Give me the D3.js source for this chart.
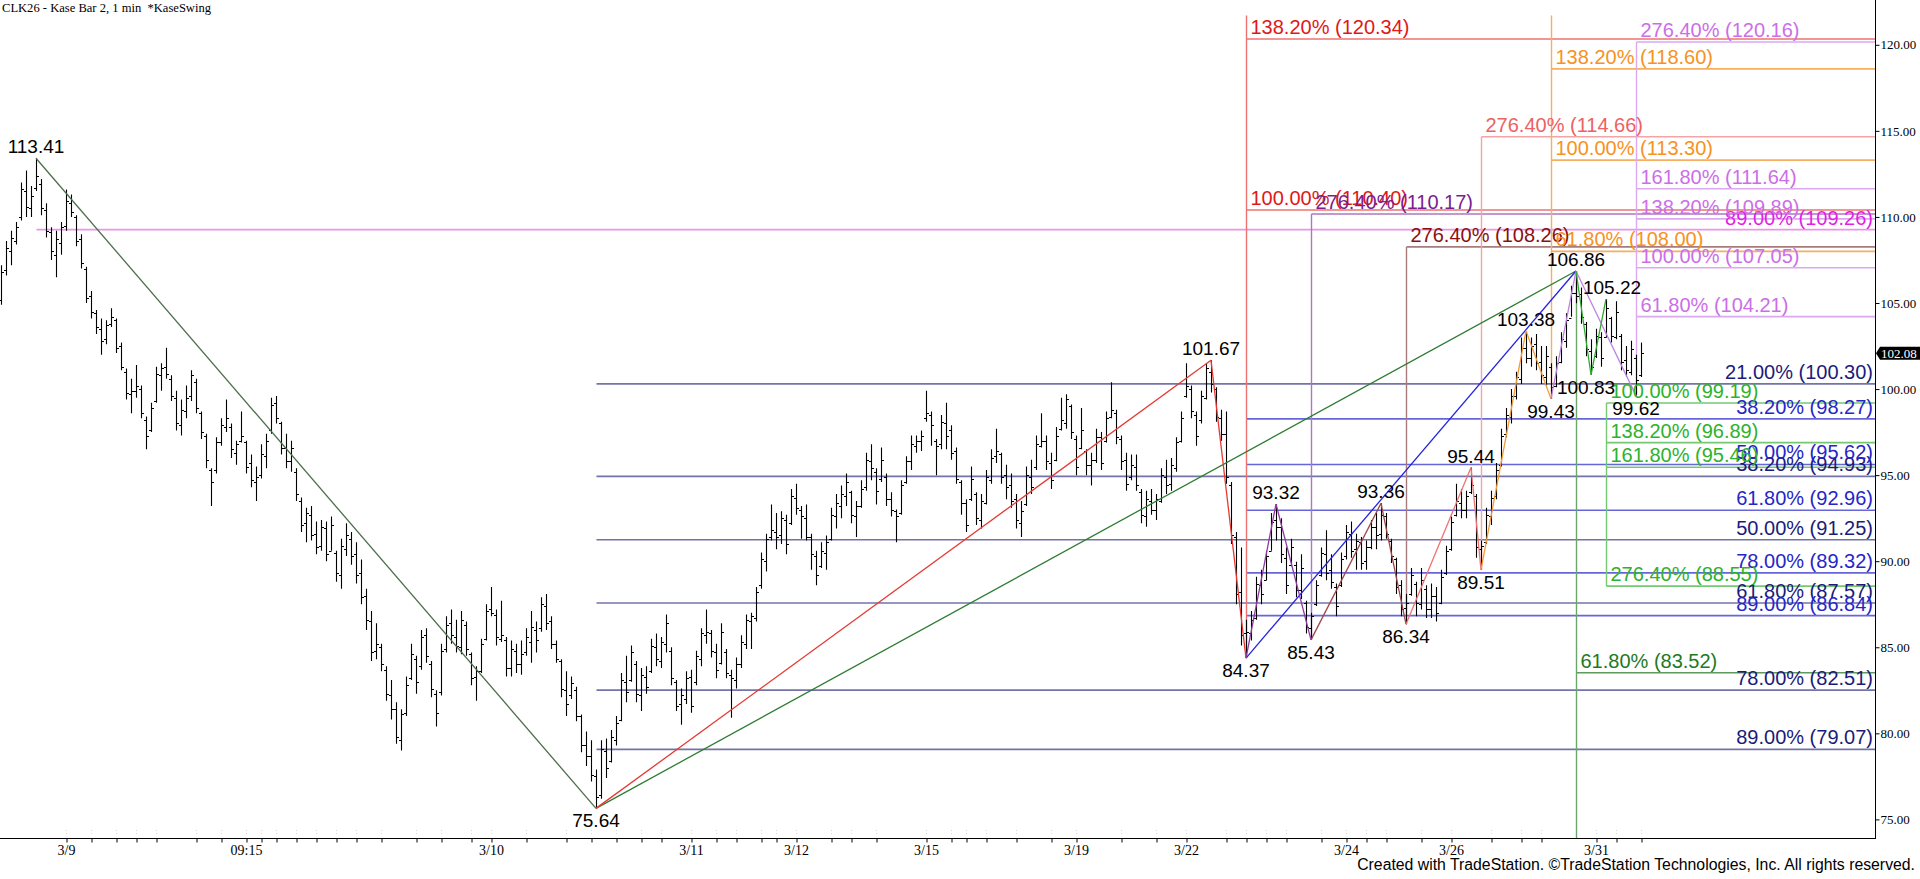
<!DOCTYPE html>
<html><head><meta charset="utf-8">
<script src="https://cdn.jsdelivr.net/npm/d3@7"></script>
<style>html,body{margin:0;padding:0;background:#fff;overflow:hidden}</style>
</head><body>
<svg id="c" width="1920" height="879"></svg>
<script>
// ---------------- DATA ----------------
const highs=[
107.2,108.6,109.2,109.7,112.0,112.7,111.8,113.41,112.2,110.8,
109.4,109.2,109.7,111.6,111.3,110.1,109.0,107.1,105.7,104.6,
104.1,104.0,104.7,104.1,102.7,101.2,100.6,101.4,100.2,98.4,
99.2,101.3,101.5,102.4,100.8,99.9,99.4,100.2,101.1,100.6,
98.7,97.4,95.4,97.2,98.3,99.4,98.0,97.0,98.7,97.0,
96.2,95.5,96.8,97.4,99.5,99.6,98.1,97.4,97.0,95.4,
93.7,93.1,93.2,92.3,92.4,92.3,92.6,90.6,91.3,92.2,
91.7,91.1,90.1,88.4,87.1,86.4,85.2,83.9,83.1,81.8,
81.4,83.3,85.2,84.5,86.0,86.1,84.2,82.5,85.2,86.8,
87.2,86.6,87.1,86.5,84.7,83.9,85.5,87.5,88.5,87.2,
87.7,85.6,85.4,85.2,85.4,86.1,87.1,86.5,87.9,88.1,
86.8,85.4,84.3,83.6,83.3,82.7,81.1,80.1,79.6,77.9,
79.6,79.7,80.2,81.0,83.5,84.5,85.1,84.2,83.8,83.9,
85.5,85.8,85.6,86.9,85.0,83.1,82.6,83.6,83.7,84.8,
86.1,87.2,86.0,85.2,86.4,84.9,83.7,84.4,85.7,86.9,
87.0,88.5,90.5,91.6,93.3,92.8,92.9,92.7,94.2,94.5,
93.2,93.3,91.6,90.6,91.1,91.5,93.1,93.9,94.4,95.1,
94.1,93.5,94.7,96.3,96.8,95.4,96.6,95.1,94.0,93.0,
94.7,96.1,97.3,97.3,97.6,99.9,98.7,97.1,98.5,99.2,
97.9,96.6,94.7,93.6,95.5,94.0,93.9,95.3,96.5,97.7,
96.3,95.6,95.1,93.9,93.5,95.5,95.9,97.3,98.6,97.3,
96.3,97.8,99.5,99.7,99.1,97.3,98.9,96.5,96.3,97.7,
97.5,98.7,100.4,98.8,97.3,96.3,96.2,96.2,94.2,94.1,
94.2,93.9,95.4,95.9,96.0,97.2,98.7,101.5,100.2,98.7,
99.9,101.5,101.67,100.1,98.8,98.7,94.6,91.7,90.8,86.6,
87.1,89.1,89.5,90.6,92.8,93.32,92.5,90.8,91.3,89.97,
90.4,87.7,87.0,88.9,90.8,91.8,90.4,88.7,90.5,92.1,
92.3,91.6,91.4,91.2,92.4,92.8,93.36,92.8,91.3,90.2,
88.9,88.1,89.6,88.8,89.6,88.6,88.7,88.5,89.5,90.9,
92.6,94.5,94.2,94.1,95.44,93.9,91.2,93.1,94.1,95.7,
97.7,98.9,100.0,101.0,103.0,103.38,103.0,103.2,102.5,102.5,
101.5,101.9,103.3,104.4,106.0,106.86,105.9,103.9,102.9,103.5,
103.3,105.22,104.2,105.1,103.2,102.5,102.8,102.0,102.7];
const lows=[
104.9,106.6,107.2,108.4,109.8,110.0,110.0,111.5,110.1,108.8,
107.5,106.5,107.8,109.2,110.0,108.3,107.0,105.0,104.1,103.2,
102.0,102.6,103.6,102.1,101.1,99.4,98.6,99.5,98.3,96.5,
97.5,99.2,99.9,100.6,99.3,97.6,97.3,98.3,99.3,98.6,
97.1,95.4,93.2,95.1,96.7,97.5,96.0,95.6,96.9,95.1,
94.3,93.5,94.8,95.4,97.4,98.0,96.2,95.4,95.2,93.5,
91.7,91.1,91.2,90.4,90.6,90.0,90.6,88.8,88.4,90.3,
89.8,88.7,87.5,86.0,84.2,84.3,83.6,81.9,80.8,79.4,
79.0,81.0,83.1,82.3,83.7,84.1,82.1,80.4,82.2,84.7,
85.2,84.7,84.6,84.5,82.8,81.9,83.5,85.4,86.8,85.1,
85.3,83.3,83.3,83.5,83.4,84.5,84.1,84.7,85.9,86.0,
84.9,84.1,82.1,81.0,82.0,80.7,78.9,78.1,77.2,75.64,
76.2,77.4,78.3,79.3,80.7,81.8,83.0,81.8,81.3,82.3,
83.5,83.9,83.8,84.7,82.8,81.3,80.5,81.7,81.2,82.8,
83.9,85.2,84.4,83.2,84.0,83.2,80.9,82.6,83.8,84.9,
84.9,86.5,88.4,89.4,91.2,90.7,91.0,90.4,92.1,92.7,
91.3,91.2,89.5,88.6,89.6,89.5,91.2,91.9,92.5,93.2,
92.2,91.4,93.1,94.1,94.7,93.3,94.6,93.2,92.6,91.1,
92.7,94.5,95.3,96.3,96.4,98.1,96.7,95.0,96.5,96.5,
95.9,94.5,92.7,91.7,93.5,92.1,91.9,93.3,94.5,95.7,
94.5,93.6,93.1,91.9,91.4,93.2,93.9,95.3,96.6,95.3,
94.2,95.8,97.6,97.7,97.1,95.0,96.5,95.0,94.4,95.7,
95.3,96.9,98.3,96.8,95.3,94.1,94.7,94.1,92.2,92.0,
92.7,92.4,93.4,93.9,94.1,95.2,96.9,99.5,98.3,96.7,
98.0,99.4,99.8,98.1,97.0,94.5,91.0,87.5,85.1,84.37,
85.4,86.6,87.5,88.9,90.6,91.2,89.9,88.1,89.7,87.9,
87.8,85.8,85.43,87.4,89.1,88.9,88.4,86.8,88.5,90.1,
90.2,89.5,89.5,89.5,90.7,90.7,91.2,91.3,89.9,88.1,
86.8,86.34,88.0,86.8,87.2,86.7,86.7,86.5,87.5,89.2,
90.6,92.6,92.5,92.5,93.9,90.2,89.51,91.0,92.1,93.6,
95.5,97.2,98.0,99.4,100.3,101.5,101.3,101.1,100.3,100.2,
99.43,100.1,101.5,102.4,104.2,104.98,103.8,101.9,100.83,101.8,
101.3,103.0,102.7,102.9,101.1,100.7,100.8,99.62,100.7];
const opens=[
105.2,106.9,108.0,108.6,110.0,111.5,110.5,111.7,111.9,110.4,
109.1,107.8,108.5,109.5,110.8,110.0,108.7,107.0,105.4,104.4,
103.5,102.9,103.8,104.0,102.5,101.0,99.7,99.9,100.0,98.2,
97.6,99.3,100.8,101.3,100.6,99.5,97.9,98.7,99.6,100.4,
98.6,97.3,95.3,95.3,96.9,97.8,97.8,96.3,97.0,96.9,
95.7,94.6,95.0,96.1,97.6,99.2,98.0,96.6,95.8,95.2,
93.5,92.2,92.7,91.6,90.9,91.9,90.6,90.5,89.2,90.7,
91.3,90.4,89.3,88.0,86.5,84.8,85.0,83.7,82.2,81.4,
79.6,81.2,83.2,84.3,83.9,85.7,84.0,82.3,82.4,84.9,
86.4,85.6,85.0,86.3,84.6,83.3,83.6,85.5,87.2,86.9,
85.5,85.4,83.8,84.8,84.0,84.7,85.3,86.0,86.1,87.4,
86.5,85.2,84.2,82.5,82.2,82.5,81.0,79.3,78.7,77.5,
76.4,79.0,78.4,79.6,80.8,83.0,83.1,84.0,82.2,83.3,
83.6,85.0,84.2,85.2,84.8,83.0,81.7,82.0,83.3,83.0,
84.3,85.7,85.8,84.7,84.1,84.7,83.4,83.1,84.0,85.2,
86.5,86.7,88.6,90.0,91.4,91.7,91.5,92.4,92.2,93.7,
93.0,92.5,91.4,90.3,89.7,90.5,91.3,92.6,93.2,93.8,
94.0,92.6,93.2,94.3,95.8,95.2,94.8,94.9,93.6,92.9,
92.8,94.6,95.8,96.7,97.0,98.3,98.5,97.0,96.8,98.0,
97.6,96.4,94.6,93.4,93.6,93.9,92.4,93.4,94.7,96.1,
96.2,95.0,94.4,93.6,92.2,93.3,94.9,95.5,96.7,97.0,
95.7,95.9,97.7,98.0,99.0,97.1,96.6,96.4,95.6,95.9,
97.2,97.0,98.4,98.6,97.1,95.9,94.9,95.5,94.0,92.6,
93.5,93.0,93.5,94.9,94.5,95.4,97.0,99.6,100.0,98.5,
98.2,99.5,101.0,100.0,98.3,97.4,94.4,91.4,88.2,85.8,
85.8,86.7,88.6,88.9,90.6,92.4,92.0,90.2,89.8,89.8,
88.3,87.6,86.1,87.5,89.2,90.4,89.5,88.5,88.6,90.3,
91.6,90.7,91.1,90.0,90.8,92.0,91.6,92.6,91.2,90.1,
88.6,87.3,88.1,88.7,87.5,88.4,87.2,88.0,87.6,89.3,
90.7,92.7,93.4,93.0,94.0,93.8,90.7,91.1,92.6,93.8,
95.6,97.4,98.4,99.6,100.6,102.4,101.8,102.6,101.6,100.7,
101.3,100.2,101.6,102.8,104.1,105.6,105.5,103.8,102.2,101.9,
103.0,103.0,104.1,103.0,103.1,101.7,101.0,101.8,100.8];
const closes=[
106.8,108.2,108.8,109.4,111.6,110.6,111.2,112.4,110.5,109.2,
108.0,108.7,109.4,110.9,110.3,108.6,107.3,105.3,104.5,103.6,
102.8,103.7,104.2,102.4,101.3,99.8,99.9,100.2,98.6,97.3,
98.9,100.9,101.2,100.9,99.6,98.0,98.8,99.5,100.8,98.9,
97.5,95.9,94.6,96.9,97.9,98.3,96.5,96.8,97.3,95.5,
94.7,94.9,96.2,97.0,99.1,98.3,96.6,95.8,96.6,93.9,
92.1,92.8,91.5,90.8,92.0,90.4,92.1,89.3,90.9,91.5,
90.3,89.2,87.9,86.6,84.7,85.2,84.0,82.3,81.4,79.8,
81.1,82.8,84.6,83.0,85.6,84.5,82.6,81.2,84.8,86.3,
85.7,85.1,86.6,84.9,83.2,83.6,85.2,87.1,87.0,85.6,
85.7,83.8,84.9,84.0,84.6,85.6,86.2,85.4,87.5,86.4,
85.2,84.3,82.6,81.7,82.9,81.0,79.3,78.7,77.6,76.3,
79.1,78.0,79.8,80.6,83.1,82.4,84.7,82.3,83.4,82.7,
85.1,84.3,85.3,86.4,83.2,81.6,82.2,83.2,81.6,84.5,
85.8,85.9,84.8,83.7,85.9,83.5,83.2,84.0,85.3,86.6,
86.8,88.2,90.1,91.3,91.8,91.4,92.5,91.0,93.8,93.1,
92.6,91.4,90.4,89.2,90.6,91.1,92.7,93.4,93.9,94.6,
92.7,93.2,94.2,95.9,95.4,94.1,95.9,93.6,93.0,92.6,
94.4,95.8,96.8,97.0,97.3,98.6,97.9,96.7,98.1,97.3,
96.3,94.8,93.4,92.1,94.8,92.5,93.5,94.9,96.0,96.4,
94.9,94.3,93.5,92.4,92.9,95.0,94.3,96.8,97.0,95.8,
94.7,97.3,98.2,99.4,97.5,95.5,97.6,95.6,95.9,97.2,
95.7,98.3,98.8,97.2,95.8,94.5,95.6,94.4,92.7,93.6,
93.0,93.6,95.0,94.4,95.6,96.9,98.3,100.2,98.7,97.3,
99.6,101.2,100.3,98.4,97.4,94.9,91.5,88.1,85.7,85.9,
86.6,88.7,88.1,90.3,92.3,92.0,90.4,88.6,90.8,88.3,
89.6,86.2,86.8,88.6,90.5,89.3,88.8,87.4,90.1,91.7,
90.6,91.2,89.9,90.8,92.0,91.5,92.7,91.6,90.3,88.5,
87.2,87.6,89.2,87.6,88.9,87.2,88.0,87.0,89.1,90.6,
92.3,93.5,93.0,93.8,94.4,90.8,90.9,92.7,93.7,95.3,
97.3,98.5,99.6,100.7,102.4,101.8,102.5,101.5,100.8,101.9,
100.1,101.5,102.9,104.0,105.6,105.4,104.2,102.3,101.3,103.1,
101.8,104.7,103.1,104.5,101.6,101.1,102.3,100.5,102.08];

// swing points (bar index, price, label above/below)
const swingIdx =[7,119,242,249,255,262,276,281,294,296,305,310,315,318,321,327];
const swingVal =[113.41,75.64,101.67,84.37,93.32,85.43,93.36,86.34,95.44,89.51,103.38,99.43,106.86,100.83,105.22,99.62];
const swingUp  =[1,0,1,0,1,0,1,0,1,0,1,0,1,0,1,0];

// zigzag segments: pairs of swing positions
const segDkGreen=[[0,1]], segGreenLong=[[1,12]], segRed=[[1,2],[2,3]], segBlue=[[3,12]],
      segPurple=[[3,4],[4,5]], segBrown=[[5,6],[6,7]], segSalmon=[[7,8],[8,9]],
      segOrange=[[9,10],[10,11]], segLilac=[[11,12],[12,15]], segGreen=[[12,13],[13,14]];

// Fibonacci levels
const retA_pct=[21.00,38.20,50.00,61.80,78.00,89.00], retA_val=[100.30,94.93,91.25,87.57,82.51,79.07];
const retB_pct=[38.20,50.00,61.80,78.00,89.00],       retB_val=[98.27,95.62,92.96,89.32,86.84];
const mag_pct=[89.00],  mag_val=[109.26];
const red_pct=[138.20,100.00], red_val=[120.34,110.40];
const pur_pct=[276.40], pur_val=[110.17];
const mar_pct=[276.40], mar_val=[108.26];
const sal_pct=[276.40], sal_val=[114.66];
const ora_pct=[138.20,100.00,61.80], ora_val=[118.60,113.30,108.00];
const lil_pct=[276.40,161.80,138.20,100.00,61.80], lil_val=[120.16,111.64,109.89,107.05,104.21];
const grn_pct=[100.00,138.20,161.80,276.40], grn_val=[99.19,96.89,95.46,88.55];
const dkg_pct=[61.80], dkg_val=[83.52];

// vertical anchor lines: bar index, low price, high price
const vertIdx=[249,262,281,296,310,327,321,315];
const vertLo =[84.37,85.43,86.34,89.51,99.43,99.62,88.55,73.9];
const vertHi =[121.7,110.17,108.26,114.66,121.7,120.16,99.19,106.86];

// axes
const yTicks=[75,80,85,90,95,100,105,110,115,120];
const xTickIdx=[13,49,98,138,159,185,215,237,269,290,319];
const xTickLbl=["3/9","09:15","3/10","3/11","3/12","3/15","3/19","3/22","3/24","3/26","3/31"];
const xMinorIdx=[18,23,27,31,39,44,52,55,59,63,67,71,76,83,88,94,105,113,118,123,128,132,143,147,152,155,166,170,175,190,193,197,203,210,224,231,245,249,253,257,264,273,277,284,298,304,308,323,328];
const lastPrice=102.08;

// ---------------- DRAW ----------------
const FONT='"Liberation Sans", Arial, sans-serif';
const SERIF='"Liberation Serif","Times New Roman",serif';
const svg=d3.select("#c");
svg.append("rect").attr("width",1920).attr("height",879).attr("fill","#fff");
const PR=1875, PB=838;
const x=d3.scaleLinear().domain([0,375]).range([1,1876]);
const y=d3.scaleLinear().domain([75,120]).range([819.4,44.8]);
const X=i=>Math.round(x(i))+0.5;

const gLines=svg.append("g");
const fibSets=[
 {p:retA_pct,v:retA_val,from:119,lc:"#7373A8",tc:"#1B1B7A",al:"end"},
 {p:retB_pct,v:retB_val,from:249,lc:"#6666DA",tc:"#2626C8",al:"end"},
 {p:mag_pct,v:mag_val,from:7,lc:"#E996E9",tc:"#E41EE4",al:"end"},
 {p:red_pct,v:red_val,from:249,lc:"#EC7272",tc:"#E01818",al:"start"},
 {p:pur_pct,v:pur_val,from:262,lc:"#A878C0",tc:"#7A1E90",al:"start"},
 {p:mar_pct,v:mar_val,from:281,lc:"#A67C7C",tc:"#8A1010",al:"start"},
 {p:sal_pct,v:sal_val,from:296,lc:"#F4A4A4",tc:"#EE6262",al:"start"},
 {p:ora_pct,v:ora_val,from:310,lc:"#F6AE62",tc:"#F7921E",al:"start"},
 {p:lil_pct,v:lil_val,from:327,lc:"#DCA8F2",tc:"#CC6EE8",al:"start"},
 {p:grn_pct,v:grn_val,from:321,lc:"#74C874",tc:"#2DB22D",al:"start"},
 {p:dkg_pct,v:dkg_val,from:315,lc:"#5E9A5E",tc:"#1E7A1E",al:"start"}
];
const vertColors=["#EC7272","#A878C0","#A67C7C","#F4A4A4","#F6AE62","#DCA8F2","#74C874","#6AA66A"];

fibSets.forEach(s=>{
  s.v.forEach(v=>{
    gLines.append("line").attr("x1",X(s.from)).attr("x2",PR).attr("y1",y(v)).attr("y2",y(v))
      .attr("stroke",s.lc).attr("stroke-width",1.6);
  });
});
vertIdx.forEach((b,k)=>{
  gLines.append("line").attr("x1",X(b)).attr("x2",X(b))
    .attr("y1",Math.min(PB,y(vertLo[k]))).attr("y2",y(vertHi[k]))
    .attr("stroke",vertColors[k]).attr("stroke-width",1.4);
});

// OHLC bars
const bars=d3.range(highs.length);
let dPath="";
bars.forEach(i=>{
  const cx=X(i);
  dPath+=`M${cx},${y(highs[i])}V${y(lows[i])}`;
  dPath+=`M${cx-2.5},${Math.round(y(opens[i]))+0.5}H${cx}`;
  dPath+=`M${cx},${Math.round(y(closes[i]))+0.5}H${cx+2.5}`;
});
svg.append("path").attr("d",dPath).attr("stroke","#000").attr("stroke-width",1.1).attr("fill","none");

// zigzags
const zz=[[segDkGreen,"#4C6E4C"],[segGreenLong,"#2E7D32"],[segRed,"#E53935"],[segBlue,"#2323E0"],
 [segPurple,"#8E3A9E"],[segBrown,"#9B4848"],[segSalmon,"#F07272"],[segOrange,"#F39A3A"],
 [segLilac,"#BE84E0"],[segGreen,"#30AA30"]];
zz.forEach(([segs,col])=>{
  segs.forEach(([a,b])=>{
    svg.append("line").attr("x1",x(swingIdx[a])).attr("y1",y(swingVal[a]))
      .attr("x2",x(swingIdx[b])).attr("y2",y(swingVal[b]))
      .attr("stroke",col).attr("stroke-width",1.3);
  });
});

// fib labels
fibSets.forEach(s=>{
  s.v.forEach((v,k)=>{
    svg.append("text").attr("x",s.al==="end"?1873:X(s.from)+4).attr("y",y(v)-5)
      .attr("text-anchor",s.al).attr("fill",s.tc)
      .style("font-family",FONT).style("font-size","20px")
      .text(`${s.p[k].toFixed(2)}% (${v.toFixed(2)})`);
  });
});

// swing labels
swingIdx.forEach((b,k)=>{
  let dx=0;
  if(swingVal[k]===100.83) dx=-5;
  if(swingVal[k]===105.22) dx=6;
  svg.append("text").attr("x",x(b)+dx).attr("y",swingUp[k]?y(swingVal[k])-5:y(swingVal[k])+19)
    .attr("text-anchor","middle").attr("fill","#000")
    .style("font-family",FONT).style("font-size","19px")
    .text(swingVal[k].toFixed(2));
});

// axes lines
svg.append("line").attr("x1",PR+0.5).attr("x2",PR+0.5).attr("y1",0).attr("y2",PB).attr("stroke","#000");
svg.append("line").attr("x1",0).attr("x2",PR+1).attr("y1",PB+0.5).attr("y2",PB+0.5).attr("stroke","#000");

// right axis
const ya=svg.append("g").attr("transform",`translate(${PR+0.5},0)`)
  .call(d3.axisRight(y).tickValues(yTicks).tickFormat(d3.format(".2f")).tickSize(4).tickPadding(1));
ya.select(".domain").remove();
ya.selectAll("text").style("font-family",SERIF).style("font-size","13px").attr("fill","#000");

// last price tag
const ty=y(lastPrice);
svg.append("path").attr("d",`M${PR+1},${ty}L${PR+5},${ty-6.5}H1920V${ty+6.5}H${PR+5}Z`).attr("fill","#000");
svg.append("text").attr("x",PR+6).attr("y",ty+4.5).attr("fill","#fff")
  .style("font-family",SERIF).style("font-size","13px").text(lastPrice.toFixed(2));

// bottom axis
const allTicks=xTickIdx.concat(xMinorIdx);
const xa=svg.append("g").attr("transform",`translate(0.5,${PB+0.5})`)
  .call(d3.axisBottom(x).tickValues(allTicks).tickFormat("").tickSize(4));
xa.select(".domain").remove();
// faint marks above ticks
allTicks.forEach(t=>{
  svg.append("line").attr("x1",X(t)).attr("x2",X(t)).attr("y1",830).attr("y2",836)
    .attr("stroke","#d6d6d6").attr("stroke-dasharray","1,2");
});
xTickIdx.forEach((t,k)=>{
  svg.append("text").attr("x",x(t)+0.5).attr("y",855).attr("text-anchor","middle").attr("fill","#000")
    .style("font-family",SERIF).style("font-size","14px").text(xTickLbl[k]);
});

// title and footer
svg.append("text").attr("x",2).attr("y",12).attr("fill","#000")
  .style("font-family",SERIF).style("font-size","13px")
  .style("white-space","pre").attr("xml:space","preserve")
  .attr("textLength",209).attr("lengthAdjust","spacingAndGlyphs")
  .text("CLK26 - Kase Bar 2, 1 min  *KaseSwing");
svg.append("text").attr("x",1915).attr("y",870).attr("text-anchor","end").attr("fill","#000")
  .style("font-family",FONT).style("font-size","15.8px")
  .text("Created with TradeStation. ©TradeStation Technologies, Inc. All rights reserved.");
</script>
</body></html>
